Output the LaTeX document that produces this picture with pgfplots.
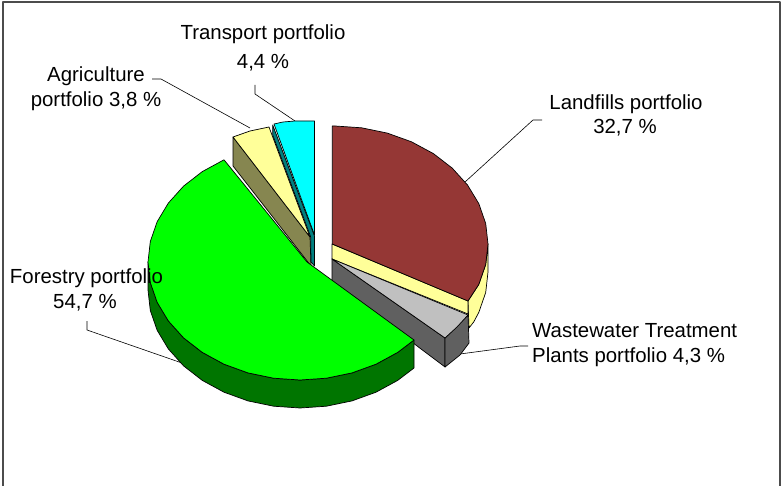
\documentclass[border=0pt]{standalone}
\usepackage{pgfplots}
\pgfplotsset{compat=1.18}
\usepackage{fontspec}
\setmainfont{Liberation Sans}
\definecolor{brownc}{HTML}{953735}
\definecolor{yel}{HTML}{FFFF99}
\definecolor{oli}{HTML}{868650}
\definecolor{teal2}{HTML}{007F7F}
\definecolor{cy}{HTML}{00FFFF}
\definecolor{gr}{HTML}{00FF00}
\definecolor{dgr}{HTML}{007500}
\definecolor{lg}{HTML}{C0C0C0}
\definecolor{mg}{HTML}{606060}
\begin{document}
\begin{tikzpicture}[every node/.style={font=\fontsize{20.4}{24}\selectfont,inner sep=0pt,anchor=base,text=black}]
\path[use as bounding box] (0,0) rectangle (781pt,486pt);
\begin{axis}[at={(0,0)},anchor=south west,scale only axis,width=781pt,height=486pt,xmin=0,xmax=781,ymin=0,ymax=486,y dir=reverse,axis lines=none,clip=false,
 every axis plot/.append style={draw=black,line width=0.7pt,mark=none,line join=round}]
% frame
\addplot[draw=black!70,line width=1.2pt] coordinates {(3,486)(3,2)(780,2)(780,486)};
% leaders
\addplot[line width=0.6pt] coordinates {(255,85)(255,94)(295,121)};
\addplot[line width=0.6pt] coordinates {(152,79)(161,79)(250,128)};
\addplot[line width=0.6pt] coordinates {(542,120)(533,120)(465,182)};
\addplot[line width=0.6pt] coordinates {(528,346)(520,346)(460,354)};
\addplot[line width=0.6pt] coordinates {(87,321)(87,330)(182,363)};
% landfills outer side
\addplot[fill=yel] coordinates {(488,244)(488,272)(485.7,292.5)(478.8,312.4)(473.7,322)(469,328)(468,301)(478.8,284.4)(485.7,264.5)} --cycle;
% landfills cut face
\addplot[fill=yel] coordinates {(332,244)(468,301)(468,314)(332,259)} --cycle;
% landfills top
\addplot[fill=brownc] coordinates {(332.3,126)(335,126)(361.6,127.8)(387.3,133.1)(411.5,141.8)(433.4,153.6)(452.2,168.1)(467.5,185)(478.8,203.6)(485.7,223.5)(488,244)(485.7,264.5)(478.8,284.4)(468,301)(332.3,244)} --cycle;
% wastewater
\addplot[fill=mg] coordinates {(332,259)(445,338)(445,367)(332,282)} --cycle;
\addplot[fill=mg] coordinates {(445,338)(468,315)(469,343)(460,355)(445,367)} --cycle;
\addplot[fill=lg] coordinates {(332,259)(468,315)(457,327)(445,338)} --cycle;
% agriculture
\addplot[fill=oli] coordinates {(233,137)(310,237)(311,266)(233,166)} --cycle;
\addplot[fill=yel] coordinates {(233,137)(250,131)(269,127)(310,237)} --cycle;
% transport
\addplot[fill=teal2] coordinates {(272.7,125)(272.7,135)(310.7,237)(311,262)(314.5,266)(314.5,236)} --cycle;
\addplot[fill=cy] coordinates {(274,124)(283,122)(295,121)(314.5,121)(314.5,235)} --cycle;
% forestry side
\addplot[fill=dgr] coordinates {(148,262)(150.3,282.5)(157.2,302.4)(168.4,321)(183.6,337.9)(202.3,352.4)(224,364.2)(248,372.9)(273.6,378.2)(300,380)(326.4,378.2)(352,372.9)(376,364.2)(397.7,352.4)(414,340)(414,368)(397.7,380.4)(376,392.2)(352,400.9)(326.4,406.2)(300,408)(273.6,406.2)(248,400.9)(224,392.2)(202.3,380.4)(183.6,365.9)(168.4,349)(157.2,330.4)(150.3,310.5)(148,290)} --cycle;
% forestry top
\addplot[fill=gr] coordinates {(224,159.8)(202.3,171.6)(183.6,186.1)(168.4,203)(157.2,221.6)(150.3,241.5)(148,262)(150.3,282.5)(157.2,302.4)(168.4,321)(183.6,337.9)(202.3,352.4)(224,364.2)(248,372.9)(273.6,378.2)(300,380)(326.4,378.2)(352,372.9)(376,364.2)(397.7,352.4)(414,340)(307,262)} --cycle;
% labels
\node at (axis cs:263,40) {Transport portfolio};
\node at (axis cs:263,69) {4,4 \%};
\node at (axis cs:96,82) {Agriculture};
\node at (axis cs:96,107) {portfolio 3,8 \%};
\node at (axis cs:626,110) {Landfills portfolio};
\node at (axis cs:625,134) {32,7 \%};
\node[anchor=base west] at (axis cs:532,337) {Wastewater Treatment};
\node[anchor=base west] at (axis cs:532,362) {Plants portfolio 4,3 \%};
\node at (axis cs:86.5,283) {Forestry portfolio};
\node at (axis cs:85,308) {54,7 \%};
\end{axis}
\end{tikzpicture}
\end{document}
